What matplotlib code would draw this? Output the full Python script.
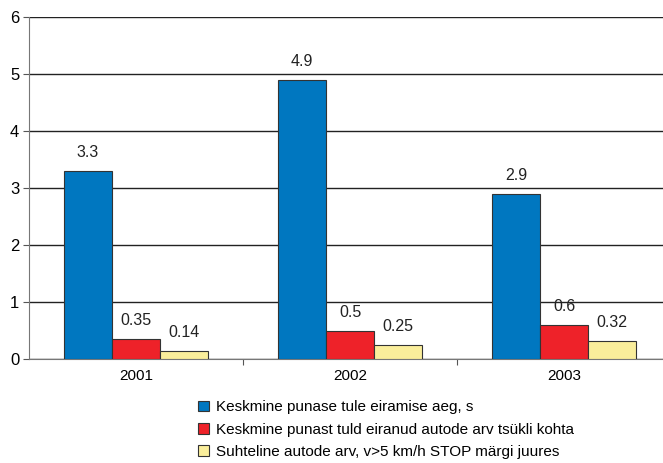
import numpy as np
import matplotlib
matplotlib.use("Agg")
import matplotlib.pyplot as plt
from matplotlib.patches import Patch

plt.rcParams["font.family"] = ["Liberation Sans", "DejaVu Sans"]

years = ["2001", "2002", "2003"]
avg_time = [3.3, 4.9, 2.9]
avg_cars = [0.35, 0.5, 0.6]
share_stop = [0.14, 0.25, 0.32]
series_names = [
    "Keskmine punase tule eiramise aeg, s",
    "Keskmine punast tuld eiranud autode arv tsükli kohta",
    "Suhteline autode arv, v>5 km/h STOP märgi juures",
]
series_colors = ["#0077C0", "#EE2229", "#FAEE9B"]
value_labels = [["3.3", "4.9", "2.9"], ["0.35", "0.5", "0.6"], ["0.14", "0.25", "0.32"]]

fig = plt.figure(figsize=(6.63, 4.63), dpi=100)
ax = fig.add_axes([29 / 663, 104 / 463, 642 / 663, 342 / 463])

x = np.arange(len(years))
width = 0.224
series = [avg_time, avg_cars, share_stop]
for i, (vals, col) in enumerate(zip(series, series_colors)):
    pos = x + (i - 1) * width
    ax.bar(pos, vals, width, color=col, edgecolor="#333333", linewidth=0.8, zorder=3)
    for p, v, lab in zip(pos, vals, value_labels[i]):
        ax.text(p, v + 0.19, lab, ha="center", va="bottom", fontsize=11.5, color="#222222")

ax.set_xlim(-0.5, 2.5)
ax.set_ylim(0, 6)
ax.set_yticks(range(7))
ax.tick_params(axis="y", labelsize=12, length=4, color="#555555", pad=3)
ax.yaxis.grid(True, color="#222222", linewidth=1.0, zorder=0)

ax.set_xticks([0.5, 1.5])
ax.set_xticklabels([])
ax.set_xticks(x, minor=True)
ax.set_xticklabels(years, minor=True, fontsize=11)
ax.tick_params(axis="x", which="major", length=4, color="#555555", direction="out")
ax.tick_params(axis="x", which="minor", length=0, pad=7)

for s in ["top", "right"]:
    ax.spines[s].set_visible(False)
ax.spines["left"].set_color("#777777")
ax.spines["bottom"].set_color("#777777")

handles = [Patch(facecolor=c, edgecolor="#333333", linewidth=0.8) for c in series_colors]
fig.legend(handles, series_names, loc="upper left", bbox_to_anchor=(186 / 663, 1 - 388 / 463),
           frameon=False, fontsize=11, handlelength=0.7, handleheight=0.7,
           handletextpad=0.45, labelspacing=0.55, borderpad=0.3)

fig.savefig("out.png", dpi=100)
